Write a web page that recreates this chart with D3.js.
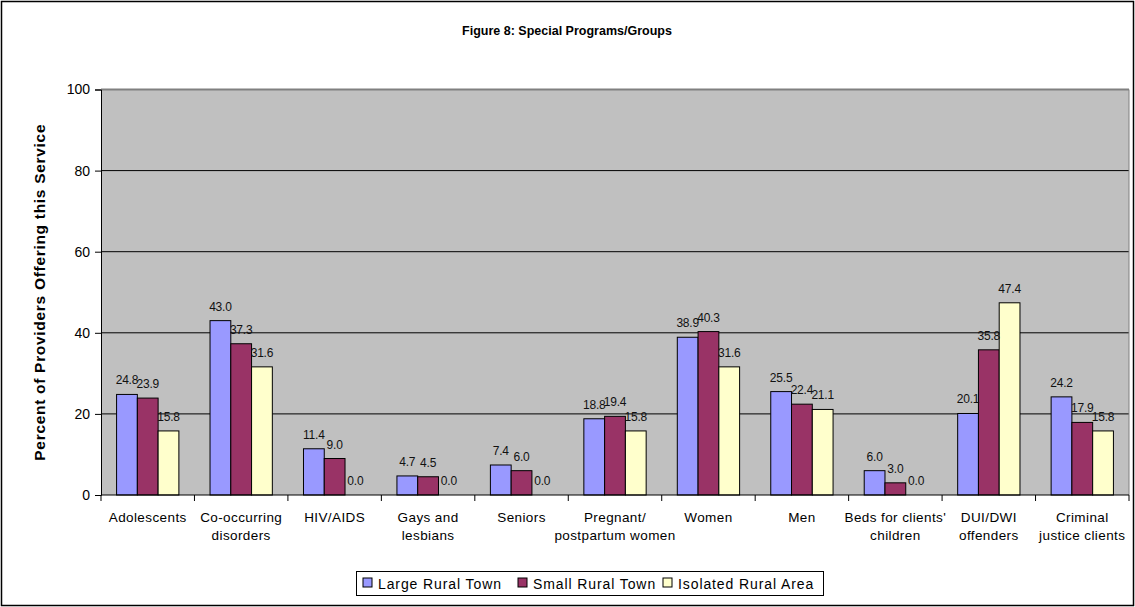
<!DOCTYPE html>
<html><head><meta charset="utf-8">
<script src="https://cdn.jsdelivr.net/npm/d3@7"></script>
<style>body{margin:0;background:#fff}svg{display:block;font-family:"Liberation Sans",Arial,sans-serif}</style>
</head><body><svg id="c" width="1135" height="607"></svg>
<script>
const categories = [["Adolescents"],["Co-occurring","disorders"],["HIV/AIDS"],["Gays and","lesbians"],["Seniors"],["Pregnant/","postpartum women"],["Women"],["Men"],["Beds for clients'","children"],["DUI/DWI","offenders"],["Criminal","justice clients"]];
const seriesNames = ["Large Rural Town","Small Rural Town","Isolated Rural Area"];
const largeRural = [24.8,43.0,11.4,4.7,7.4,18.8,38.9,25.5,6.0,20.1,24.2];
const smallRural = [23.9,37.3,9.0,4.5,6.0,19.4,40.3,22.4,3.0,35.8,17.9];
const isolatedRural = [15.8,31.6,0.0,0.0,0.0,15.8,31.6,21.1,0.0,47.4,15.8];
const yTicks = [0,20,40,60,80,100];
const colors = ["#9999ff","#993366","#ffffcc"];
const series = [largeRural, smallRural, isolatedRural];

const svg = d3.select("#c");
const L=101, R=1129, T=89.5, B=495;
svg.append("rect").attr("x",1.5).attr("y",1.5).attr("width",1132).attr("height",604).attr("fill","#fff").attr("stroke","#000").attr("stroke-width",1.5);
svg.append("text").attr("x",567).attr("y",35).attr("text-anchor","middle").attr("font-weight","bold").attr("font-size",12.5)
  .attr("font-family","'Liberation Sans Narrow','Liberation Sans',Arial").text("Figure 8: Special Programs/Groups");

const y = d3.scaleLinear().domain([0,100]).range([B,T]);
const x0 = d3.scaleBand().domain(d3.range(categories.length)).range([L,R]).paddingInner(0).paddingOuter(0);
const cw = x0.bandwidth();
const bw = cw/4.5;
const x1 = d3.scaleBand().domain([0,1,2]).range([0.75*bw, 0.75*bw+3*bw]);

svg.append("rect").attr("x",L).attr("y",T).attr("width",R-L).attr("height",B-T).attr("fill","#c0c0c0");
const g = svg.append("g");
g.selectAll("line.grid").data(yTicks.slice(1)).join("line").attr("x1",L).attr("x2",R)
  .attr("y1",d=>y(d)).attr("y2",d=>y(d)).attr("stroke","#000").attr("stroke-width",1);
svg.append("line").attr("x1",L).attr("x2",R).attr("y1",T).attr("y2",T).attr("stroke","#808080").attr("stroke-width",2);
svg.append("line").attr("x1",R).attr("x2",R).attr("y1",T).attr("y2",B).attr("stroke","#808080").attr("stroke-width",1);

categories.forEach((c,i)=>{
  series.forEach((s,j)=>{
    const v=s[i];
    const bx = x0(i)+x1(j);
    svg.append("rect").attr("x",bx).attr("y",y(v)).attr("width",x1.bandwidth()).attr("height",B-y(v))
      .attr("fill",colors[j]).attr("stroke","#000").attr("stroke-width",1);
  });
});
categories.forEach((c,i)=>{
  series.forEach((s,j)=>{
    const v=s[i];
    const bx = x0(i)+x1(j);
    svg.append("text").attr("x",bx+x1.bandwidth()/2).attr("y",y(v)-10).attr("text-anchor","middle")
      .attr("font-size",12).attr("fill","#111").attr("letter-spacing","-0.2").text(v.toFixed(1));
  });
});

// axes
const yAxis = d3.axisLeft(y).tickValues(yTicks).tickSize(6).tickPadding(5);
const ya = svg.append("g").attr("transform",`translate(${L},0)`).call(yAxis);
ya.select(".domain").attr("stroke","#000");
ya.selectAll("text").attr("font-size",14).attr("font-family","'Liberation Sans',Arial").attr("fill","#000");
const xa = svg.append("g").attr("transform",`translate(0,${B})`);
xa.append("line").attr("x1",L).attr("x2",R).attr("stroke","#000");
d3.range(categories.length+1).forEach(i=>{
  const xx = i<categories.length? x0(i): R;
  xa.append("line").attr("x1",xx).attr("x2",xx).attr("y1",0).attr("y2",6).attr("stroke","#000");
});
categories.forEach((c,i)=>{
  const t = xa.append("text").attr("text-anchor","middle").attr("font-size",13.5).attr("letter-spacing","0.4").attr("fill","#000");
  c.forEach((ln,k)=>t.append("tspan").attr("x",x0(i)+cw/2).attr("y",27+k*18).text(ln));
});
svg.append("text").attr("transform",`translate(45,${(T+B)/2}) rotate(-90)`).attr("text-anchor","middle")
  .attr("font-weight","bold").attr("font-size",15.5).attr("letter-spacing","0.7").text("Percent of Providers Offering this Service");

// legend
const lg = svg.append("g");
lg.append("rect").attr("x",356.5).attr("y",571.5).attr("width",467).attr("height",24).attr("fill","#fff").attr("stroke","#000");
const lx=[363,518,663];
seriesNames.forEach((n,j)=>{
  lg.append("rect").attr("x",lx[j]).attr("y",578).attr("width",9).attr("height",9).attr("fill",colors[j]).attr("stroke","#000");
  lg.append("text").attr("x",lx[j]+15).attr("y",588.5).attr("font-size",14).attr("letter-spacing","0.9").text(n);
});
</script></body></html>
